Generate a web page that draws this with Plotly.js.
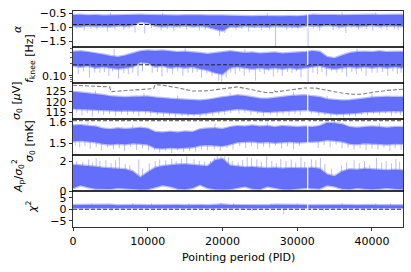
<!DOCTYPE html>
<html><head><meta charset="utf-8">
<script src="https://cdn.plot.ly/plotly-3.0.1.min.js"></script>
<style>html,body{margin:0;padding:0;background:#fff}</style>
</head><body><div id="chart" style="width:411px;height:272px"></div>
<script>
// ---- data ----
const pid = [0,1000,2000,3000,4000,5000,6000,7000,8000,9000,
  10000,11000,12000,13000,14000,15000,16000,17000,18000,19000,
  20000,21000,22000,23000,24000,25000,26000,27000,28000,29000,
  30000,31000,32000,33000,34000,35000,36000,37000,38000,39000,
  40000,41000,42000,43000,44000,44150];
const xTicks = [0,10000,20000,30000,40000];
const gapPID = 31400;

// alpha
const alphaTop = [-0.56,-0.55,-0.57,-0.56,-0.58,-0.57,-0.58,-0.57,-0.56,-0.55,
 -0.56,-0.57,-0.56,-0.57,-0.58,-0.57,-0.56,-0.57,-0.58,-0.57,
 -0.58,-0.59,-0.60,-0.60,-0.61,-0.60,-0.61,-0.60,-0.61,-0.60,
 -0.61,-0.59,-0.55,-0.56,-0.55,-0.56,-0.57,-0.56,-0.55,-0.56,
 -0.55,-0.56,-0.55,-0.56,-0.55,-0.56];
const alphaBot = [-0.95,-0.97,-0.94,-0.96,-0.95,-0.97,-0.94,-0.96,-0.93,-0.80,
 -0.84,-0.95,-0.97,-0.95,-0.96,-0.94,-0.97,-0.95,-0.98,-1.06,
 -1.12,-0.97,-0.98,-0.95,-0.97,-0.96,-0.98,-0.95,-0.97,-0.96,
 -0.98,-0.95,-0.94,-0.96,-0.93,-0.95,-0.97,-0.94,-0.96,-0.95,
 -0.93,-0.96,-0.94,-0.95,-0.96,-0.95];
const alphaSpikePID = [1500,3200,4600,6800,8300,9600,11800,13500,15200,16900,18400,19600,20300,21800,23500,25200,27100,28600,30100,31450,33000,34800,36500,38200,40100,42000,43500,
  500,2400,4000,5600,7500,10500,12600,14300,17700,22600,24300,26300,29300,32200,35600,37300,39300,41200,43000,
  5000,12000,26000,36000,40500];
const alphaSpikeVal = [-1.12,-1.08,-1.15,-1.1,-1.18,-1.22,-1.1,-1.14,-1.08,-1.12,-1.05,-1.3,-1.2,-1.1,-1.15,-1.1,-1.68,-1.1,-1.08,-1.69,-1.12,-1.1,-1.2,-1.08,-1.12,-1.09,-1.1,
  -1.04,-1.06,-1.02,-1.08,-1.05,-1.03,-1.07,-1.04,-1.09,-1.06,-1.03,-1.08,-1.05,-1.04,-1.07,-1.03,-1.06,-1.05,-1.04,
  -0.47,-0.48,-0.5,-0.46,-0.48];
const alphaRef = -0.9;

// f_knee
const fkTop = [0.41,0.42,0.40,0.38,0.35,0.32,0.30,0.33,0.38,0.42,
 0.44,0.43,0.44,0.42,0.40,0.41,0.40,0.38,0.36,0.38,
 0.41,0.42,0.40,0.38,0.39,0.37,0.38,0.39,0.37,0.38,
 0.39,0.40,0.43,0.41,0.30,0.28,0.33,0.38,0.40,0.41,
 0.40,0.42,0.40,0.41,0.42,0.41];
const fkBot = [0.18,0.17,0.18,0.16,0.17,0.16,0.15,0.16,0.17,0.22,
 0.21,0.17,0.18,0.16,0.17,0.16,0.17,0.15,0.14,0.12,
 0.11,0.16,0.17,0.16,0.15,0.16,0.15,0.16,0.15,0.16,
 0.15,0.16,0.17,0.18,0.16,0.15,0.16,0.17,0.16,0.17,
 0.16,0.17,0.16,0.17,0.16,0.17];
const fkSpikePID = [700,2200,3600,4800,6100,7400,8700,10600,11900,13300,14700,16000,17200,18600,19500,19900,20500,21700,22900,24400,25600,26800,28000,29300,30500,31450,32700,33900,35300,36600,37900,39200,40700,42100,43400,
  1400,2900,4200,5300,6800,8000,9300,11300,12600,14000,15400,16600,17900,21100,22300,23600,25000,26200,27400,28700,29900,32100,33300,34600,36000,37300,38600,40000,41400,42800,43900,
  5500,15000,23000,38000];
const fkSpikeVal = [0.11,0.09,0.12,0.1,0.085,0.11,0.1,0.12,0.095,0.11,0.1,0.12,0.09,0.1,0.075,0.068,0.09,0.11,0.1,0.075,0.11,0.095,0.1,0.12,0.09,0.066,0.11,0.1,0.12,0.095,0.11,0.1,0.12,0.1,0.11,
  0.13,0.12,0.125,0.13,0.115,0.12,0.13,0.125,0.12,0.13,0.12,0.125,0.115,0.12,0.13,0.12,0.125,0.13,0.12,0.125,0.13,0.12,0.125,0.13,0.12,0.125,0.13,0.12,0.125,0.13,0.12,
  0.48,0.5,0.47,0.49];
const fkRef = 0.19;
const fkMinor = [0.07,0.08,0.09,0.2,0.3,0.4,0.5];

// sigma0 [uV]
const svTop = [124.8,124.5,124.2,123.9,123.3,122.6,122.3,122.2,122.4,122.3,
 122.5,122.0,121.6,121.4,121.2,121.0,120.7,120.6,120.9,121.6,
 122.2,122.6,123.1,122.8,122.2,121.6,121.4,121.7,122.3,122.8,
 123.0,123.1,122.6,122.3,121.2,120.8,120.6,120.7,121.0,121.6,
 122.0,122.3,122.4,122.3,122.4,122.3];
const svBot = [116.6,116.4,116.5,116.2,116.0,115.8,115.6,115.7,115.8,115.6,
 115.5,115.0,114.6,114.4,114.3,114.2,114.0,114.1,114.4,115.0,
 115.6,116.0,116.5,116.2,115.8,115.2,115.0,115.1,115.3,115.6,
 115.8,116.0,115.7,115.3,114.6,114.2,114.1,114.2,114.5,115.0,
 115.3,115.5,115.4,115.5,115.4,115.5];
const svSpikePID = [1200,2600,4100,5700,7300,8800,10400,12100,13700,15400,17000,18700,20300,22200,23800,25500,27300,28900,30400,32900,34500,36200,37800,39400,41000,42600,43800,
  500,1900,3400,4900,6500,8100,9700,11300,12900,14600,16200,17800,19500,21100,23000,24700,26400,28100,29700,31900,33700,35300,37000,38600,40200,41800,43200,
  3000,9500,21000,29500,40000,14000,34000];
const svSpikeVal = [113.4,112.8,113.6,113.0,113.5,112.9,113.2,112.6,112.4,112.7,112.5,113.0,113.6,114.2,113.7,113.0,112.8,113.3,113.5,113.2,112.6,112.4,112.8,113.4,113.6,113.2,113.5,
  114.6,114.4,114.2,114.0,113.9,114.1,113.8,113.6,113.2,113.0,112.9,113.1,113.8,114.4,114.6,114.0,113.6,113.8,114.1,114.2,113.4,113.0,113.1,113.6,114.0,114.2,114.0,
  125.3,124.2,124.5,124.8,124.0,123.0,122.8];
const svRefPID = [0,2000,4000,4900,5100,6000,8000,10000,10800,11000,12000,14000,16000,18000,20000,22000,24000,25700,26900,27000,27200,29000,31000,32500,34000,36000,37500,38700,40000,42000,44150];
const svRef = [128.0,127.8,127.5,127.2,124.9,125.2,125.8,126.2,126.4,128.3,128.0,126.8,125.2,125.3,126.3,127.2,125.8,124.5,124.4,125.2,124.8,125.8,126.7,126.6,125.6,124.2,123.6,123.7,124.5,125.5,126.1];

// sigma0 [mK]
const skTop = [1.583,1.585,1.580,1.578,1.568,1.565,1.570,1.566,1.568,1.572,
 1.568,1.552,1.550,1.553,1.550,1.555,1.552,1.565,1.568,1.570,
 1.566,1.575,1.580,1.578,1.582,1.578,1.580,1.576,1.580,1.578,
 1.575,1.578,1.575,1.580,1.595,1.593,1.588,1.575,1.572,1.575,
 1.578,1.575,1.572,1.576,1.574,1.575];
const skBot = [1.510,1.512,1.508,1.505,1.498,1.495,1.498,1.496,1.500,1.498,
 1.495,1.478,1.476,1.480,1.477,1.479,1.482,1.490,1.492,1.490,
 1.488,1.495,1.505,1.506,1.508,1.504,1.506,1.503,1.505,1.507,
 1.504,1.506,1.508,1.510,1.515,1.512,1.508,1.498,1.496,1.500,
 1.498,1.497,1.495,1.498,1.497,1.498];
const skSpikePID = [900,2300,3800,5400,6900,8500,10100,11600,13200,14800,16400,18000,19700,21400,23100,24700,26300,27900,29500,32800,34400,36000,37600,39200,40800,42400,43900,
  300,1600,3100,4600,6200,7700,9300,10900,12400,14000,15600,17200,18900,20600,22300,23900,25500,27100,28700,30300,33600,35200,36800,38400,40000,41600,43100,
  2000,19000,35000,41000,8000,26000];
const skSpikeVal = [1.48,1.475,1.468,1.472,1.465,1.47,1.468,1.458,1.455,1.46,1.462,1.468,1.465,1.472,1.478,1.474,1.48,1.476,1.472,1.478,1.482,1.476,1.47,1.468,1.472,1.466,1.47,
  1.49,1.488,1.482,1.48,1.478,1.484,1.476,1.47,1.466,1.468,1.464,1.472,1.474,1.478,1.486,1.488,1.484,1.49,1.486,1.488,1.492,1.494,1.48,1.478,1.476,1.48,1.478,
  1.598,1.59,1.603,1.592,1.585,1.595];
const skRef = 1.605;

// A_p / sigma0^2
const apTop = [1.75,1.72,1.68,1.62,1.55,1.52,1.50,1.45,1.30,0.90,
 1.25,1.55,1.66,1.72,1.76,1.78,1.75,1.70,1.65,2.05,
 2.15,1.70,1.62,1.58,1.60,1.55,1.52,1.55,1.50,1.53,
 1.50,1.52,1.55,1.48,1.10,0.98,1.30,1.45,1.42,1.48,
 1.45,1.40,1.38,1.42,1.40,1.38];
const apBot = [0.18,0.38,0.25,0.15,0.12,0.14,0.20,0.15,0.12,0.10,
 0.12,0.25,0.38,0.30,0.15,0.12,0.20,0.42,0.20,0.12,
 0.10,0.12,0.20,0.30,0.15,0.12,0.30,0.22,0.12,0.10,
 0.15,0.20,0.18,0.15,0.38,0.30,0.15,0.12,0.20,0.15,
 0.12,0.15,0.20,0.15,0.12,0.14];
const apSpikePID = [3100,4400,6200,8800,14500,15200,16900,19300,19800,20300,23300,23900,24600,25900,27800,30500,31900,33100,37600,40600,41900,43200,
  500,1300,2100,2600,3600,5100,5700,7000,7600,9300,10200,11000,11600,12400,13200,13800,16200,17600,18400,18900,20800,21300,22100,22700,25200,26600,27200,28500,29200,29800,31000,32500,33700,34600,35900,36600,38300,39000,39700,41300,42600,43700];
const apSpikeVal = [2.2,2.05,2.25,2.1,2.15,2.3,2.0,2.35,2.38,2.3,2.25,2.2,2.1,2.3,2.15,2.25,2.1,2.2,2.05,2.2,2.0,2.15,
  2.0,1.95,2.1,1.9,2.0,1.85,2.05,1.8,1.7,1.5,1.85,2.0,2.1,2.05,2.15,2.0,2.1,1.95,2.0,2.2,2.25,2.0,1.9,2.05,1.95,2.0,1.85,2.0,2.1,1.9,1.95,2.05,1.8,1.5,1.7,1.9,1.85,2.0,1.75,1.9,1.85,1.95];

// chi^2
const chiTop = [1.80,1.85,1.70,1.80,1.75,1.90,1.70,1.80,1.75,1.85,
 1.70,1.80,1.90,1.75,1.80,1.70,1.85,1.80,1.75,1.90,
 2.00,1.80,1.75,1.85,1.70,1.80,1.75,1.90,1.80,1.70,
 1.85,1.80,1.75,1.80,1.70,1.85,1.75,1.80,1.70,1.85,
 1.80,1.75,1.80,1.70,1.80,1.75];
const chiBot = [0.50,0.45,0.55,0.50,0.60,0.45,0.50,0.55,0.45,0.50,
 0.60,0.50,0.45,0.55,0.50,0.45,0.55,0.50,0.60,0.45,
 0.40,0.50,0.55,0.45,0.50,0.55,0.50,0.45,0.55,0.50,
 0.45,0.50,0.55,0.50,0.45,0.55,0.50,0.60,0.50,0.45,
 0.55,0.50,0.45,0.55,0.50,0.50];
const chiSpikePID = [5200,12500,18800,24000,28200,33500,39000,8000,15500,21500,26500,36000,42500,2500,10500,19800,30000,40500];
const chiSpikeVal = [-0.8,-0.6,-0.9,-0.7,-2.1,-0.8,-0.7,2.6,2.5,2.7,2.4,2.6,2.5,2.4,2.5,2.8,2.5,2.4];
const chiRef = 0;

// ---- drawing ----
(function () {
const BLUE = '#636efa', LIGHT = 'rgba(99,110,250,0.45)';
const traces = [];
const sfx = k => (k === 1 ? '' : String(k));

function addSpikes(k, pids, vals, base) {
  const xs = [], ys = [];
  pids.forEach((p, i) => { xs.push(p, p, null); ys.push(base, vals[i], null); });
  traces.push({type:'scatter', mode:'lines', x: xs, y: ys, xaxis:'x'+sfx(k), yaxis:'y'+sfx(k),
    line:{color: LIGHT, width: 1}, hoverinfo:'skip', showlegend:false});
}
function addBand(k, topArr, botArr) {
  traces.push({type:'scatter', mode:'lines', fill:'toself', fillcolor: BLUE,
    x: pid.concat(pid.slice().reverse()), y: topArr.concat(botArr.slice().reverse()),
    xaxis:'x'+sfx(k), yaxis:'y'+sfx(k), line:{color: LIGHT, width: 2.5},
    hoverinfo:'skip', showlegend:false});
}
function addRef(k, xs, ys, color, width) {
  traces.push({type:'scatter', mode:'lines', x: xs, y: ys, xaxis:'x'+sfx(k), yaxis:'y'+sfx(k),
    line:{color: color, width: width, dash:'4px,2px'}, hoverinfo:'skip', showlegend:false});
}
const xEnds = [pid[0], pid[pid.length-1]];

addSpikes(1, alphaSpikePID, alphaSpikeVal, -0.75);
addBand(1, alphaTop, alphaBot);
addRef(1, xEnds, [alphaRef, alphaRef], '#222', 1);

addSpikes(2, fkSpikePID, fkSpikeVal, 0.28);
addBand(2, fkTop, fkBot);
addRef(2, xEnds, [fkRef, fkRef], '#222', 1);

addSpikes(3, svSpikePID, svSpikeVal, 119);
addBand(3, svTop, svBot);
addRef(3, svRefPID, svRef, '#808080', 1.1);

addSpikes(4, skSpikePID, skSpikeVal, 1.54);
addBand(4, skTop, skBot);
addRef(4, xEnds, [skRef, skRef], '#707070', 1.3);

addSpikes(5, apSpikePID, apSpikeVal, 0.8);
addBand(5, apTop, apBot);

addRef(6, xEnds, [chiRef, chiRef], '#222', 1);
addSpikes(6, chiSpikePID, chiSpikeVal, 1.0);
addBand(6, chiTop, chiBot);

const yDefs = [
  {range:[-1.7,-0.42], tickvals:[-1.5,-1.0,-0.5], tickformat:'.1f'},
  {type:'log', range:[-1.185,-0.2675], tickvals:[0.1], ticktext:['0.10'],
   minor:{tickmode:'array', tickvals: fkMinor, ticks:'outside', ticklen:2, tickwidth:0.6, tickcolor:'#000'}},
  {range:[111.6,129.1], tickvals:[115,120,125]},
  {range:[1.446,1.6125], tickvals:[1.5,1.6], tickformat:'.1f'},
  {range:[0,2.4], tickvals:[0,2]},
  {range:[-7.7,7.9], tickvals:[-5,0,5]}
];

const layout = {
  width:411, height:272, margin:{l:73, r:8, t:11, b:45},
  paper_bgcolor:'#fff', plot_bgcolor:'#fff', showlegend:false,
  font:{family:'DejaVu Sans', size:11, color:'#000'},
  shapes:[], annotations:[]
};
const plotBottom = 227, plotH = 216;
for (let k = 1; k <= 6; k++) {
  const d0 = 1 - k/6, d1 = 1 - (k-1)/6;
  layout['xaxis'+sfx(k)] = {
    domain:[0,1], anchor:'y'+sfx(k), range:[0,44150], tickvals:xTicks, tickformat:'d',
    showline:true, mirror:true, linecolor:'#000', linewidth:0.8,
    ticks: k===6 ? 'outside' : '', ticklen:3.5, tickwidth:0.8, tickcolor:'#000',
    showticklabels: k===6, showgrid:false, zeroline:false, tickfont:{size:11}
  };
  if (k > 1) layout['xaxis'+sfx(k)].matches = 'x';
  layout['yaxis'+sfx(k)] = Object.assign({
    domain:[d0, d1], anchor:'x'+sfx(k),
    showline:true, mirror:true, linecolor:'#000', linewidth:0.8,
    ticks:'outside', ticklen:3.5, tickwidth:0.8, tickcolor:'#000',
    showgrid:false, zeroline:false, tickfont:{size:11}
  }, yDefs[k-1]);
  layout.shapes.push({type:'line', xref:'x'+sfx(k), yref:'y'+sfx(k)+' domain',
    x0:gapPID, x1:gapPID, y0: k<=2 ? 0.5 : 0.03, y1:0.97,
    line:{color:'#fff', width:1.2}, layer:'above'});
}

// axis titles (positions in px of the 411x272 figure)
const yTitles = [
  {t:'<i>α</i>', x:17, y:29},
  {t:'<i>f</i><sub>knee</sub> [Hz]', x:30, y:59},
  {t:'<i>σ</i><sub>0</sub> [<i>μ</i>V]', x:17, y:101},
  {t:'<i>σ</i><sub>0</sub> [mK]', x:30, y:141},
  {t:'<i>A</i><sub>p</sub>/<i>σ</i><sub>0</sub><sup>2</sup>', x:18, y:176},
  {t:'<i>χ</i><sup>2</sup>', x:31, y:207}
];
yTitles.forEach(o => layout.annotations.push({
  text:o.t, xref:'paper', yref:'paper', x:0, xshift:o.x-73, y:(plotBottom-o.y)/plotH,
  xanchor:'center', yanchor:'middle', textangle:-90, showarrow:false, font:{size:11}
}));
layout.annotations.push({text:'Pointing period (PID)', xref:'paper', yref:'paper',
  x:0.5, y:(plotBottom-257)/plotH, xanchor:'center', yanchor:'middle', showarrow:false, font:{size:11}});

Plotly.newPlot('chart', traces, layout, {staticPlot:true, displayModeBar:false});
})();
</script></body></html>
